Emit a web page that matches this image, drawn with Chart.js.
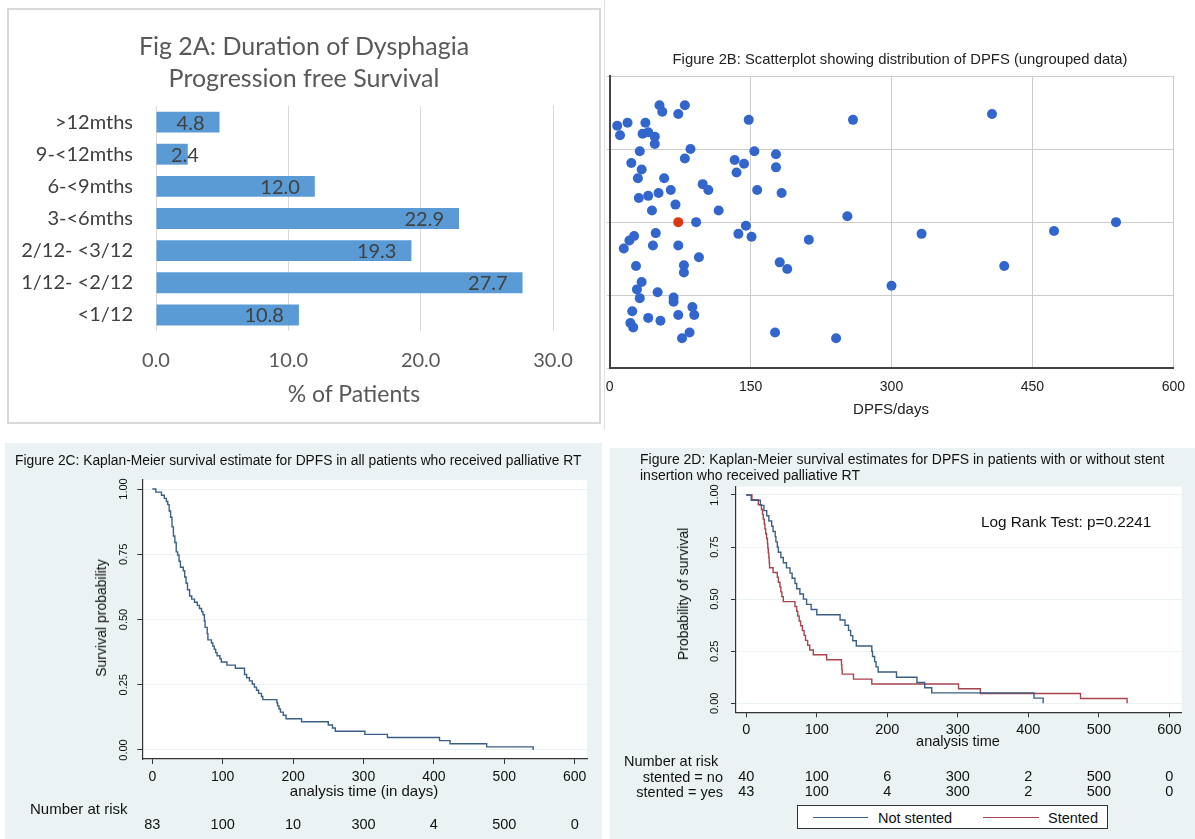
<!DOCTYPE html>
<html>
<head>
<meta charset="utf-8">
<script src="https://cdn.jsdelivr.net/npm/chart.js@4.4.1/dist/chart.umd.min.js"></script>
<style>
body { margin: 0; background: #fff; }
#page { position: relative; width: 1195px; height: 839px; overflow: hidden; font-family: "Liberation Sans", Arial, sans-serif; color: #111; }
canvas { position: absolute; left: 0; top: 0; }
.t { position: absolute; white-space: nowrap; line-height: 1; }
.c { transform: translate(-50%, -50%); }
.l { transform: translateY(-50%); }
.r { transform: translate(-100%, -50%); }
.rot { transform: translate(-50%, -50%) rotate(-90deg); }
</style>
</head>
<body>
<div id="page">
  <!-- panel backgrounds -->
  <div style="position:absolute;left:7px;top:8px;width:590px;height:412px;border:2px solid #d9d9d9"></div>
  <div style="position:absolute;left:604px;top:0;width:1px;height:430px;background:#e0e0e0"></div>
  <div style="position:absolute;left:5px;top:443px;width:597px;height:396px;background:#eaf2f3"></div>
  <div style="position:absolute;left:610px;top:448px;width:585px;height:391px;background:#eaf2f3"></div>

  <canvas id="chartA" width="1195" height="839"></canvas>
  <canvas id="chartB" width="1195" height="839"></canvas>
  <canvas id="chartC" width="1195" height="839"></canvas>
  <canvas id="chartD" width="1195" height="839"></canvas>

  <!-- Fig 2A texts -->
  <div class="t c" style="left:304px;top:45px;font:25px Lato;color:#595959">Fig 2A: Duration of Dysphagia</div>
  <div class="t c" style="left:304px;top:77px;font:25px Lato;color:#595959">Progression free Survival</div>
  <div class="t c" style="left:354px;top:393px;font:23px Lato;color:#595959">% of Patients</div>

  <!-- Fig 2B texts -->
  <div class="t c" style="left:900px;top:59px;font-size:14.8px;color:#222">Figure 2B: Scatterplot showing distribution of DPFS (ungrouped data)</div>
  <div class="t c" style="left:891px;top:408px;font-size:15px;color:#222">DPFS/days</div>

  <!-- Fig 2C texts -->
  <div class="t l" style="left:15px;top:461px;font-size:13.8px">Figure 2C: Kaplan-Meier survival estimate for DPFS in all patients who received palliative RT</div>
  <div class="t rot" style="left:101px;top:618px;font-size:14px">Survival probability</div>
  <div class="t c" style="left:364px;top:790px;font-size:15px">analysis time (in days)</div>
  <div class="t l" style="left:30px;top:808px;font-size:15px">Number at risk</div>

  <!-- Fig 2D texts -->
  <div class="t l" style="left:640px;top:459px;font-size:14px">Figure 2D: Kaplan-Meier survival estimates for DPFS in patients with or without stent</div>
  <div class="t l" style="left:640px;top:475px;font-size:14px">insertion who received palliative RT</div>
  <div class="t l" style="left:981px;top:522px;font-size:15.3px">Log Rank Test: p=0.2241</div>
  <div class="t rot" style="left:683px;top:594px;font-size:14px">Probability of survival</div>
  <div class="t c" style="left:958px;top:741px;font-size:14.5px">analysis time</div>
  <div class="t l" style="left:624px;top:761px;font-size:14.5px">Number at risk</div>
  <div class="t r" style="left:723px;top:777px;font-size:14.5px">stented = no</div>
  <div class="t r" style="left:723px;top:792px;font-size:14.5px">stented = yes</div>
  <div style="position:absolute;left:797px;top:805px;width:309px;height:22px;border:1.5px solid #333;background:#fff;font-size:14.5px">
    <div style="position:absolute;left:15px;top:11px;width:55px;border-top:1.5px solid #3b5f86"></div>
    <div class="t l" style="left:80px;top:12px">Not stented</div>
    <div style="position:absolute;left:185px;top:11px;width:56px;border-top:1.5px solid #a8434f"></div>
    <div class="t l" style="left:250px;top:12px">Stented</div>
  </div>
</div>

<script>
// ---- Fig 2A data ----
const catsA = ['>12mths', '9-<12mths', '6-<9mths', '3-<6mths', '2/12- <3/12', '1/12- <2/12', '<1/12'];
const pctA = [4.8, 2.4, 12.0, 22.9, 19.3, 27.7, 10.8];
const ticksA = [0, 10, 20, 30];

// ---- Fig 2B data (days, vertical jitter position) ----
const dpfsDays = [53, 56, 80, 73, 148, 259, 407, 8, 19, 11, 38, 35, 41, 48, 48, 32, 86, 80, 154, 177,
  177, 133, 143, 135, 23, 34, 30, 58, 65, 99, 105, 157, 183, 31, 41, 52, 70, 45, 116, 253,
  92, 145, 137, 151, 212, 26, 21, 15, 49, 46, 73, 95, 28, 79, 79, 181, 189, 300, 34, 29,
  32, 51, 68, 68, 88, 90, 73, 24, 22, 25, 41, 54, 85, 77, 176, 241, 332, 420, 473, 539];
const dpfsJitter = [3.60, 3.51, 3.60, 3.48, 3.40, 3.40, 3.48, 3.32, 3.36, 3.19, 3.36, 3.21, 3.23, 3.17, 3.07, 2.97, 3.00, 2.87, 2.97, 2.93,
  2.75, 2.85, 2.80, 2.68, 2.81, 2.72, 2.60, 2.60, 2.44, 2.52, 2.44, 2.44, 2.40, 2.33, 2.36, 2.40, 2.24, 2.16, 2.16, 2.08,
  2.00, 1.95, 1.84, 1.80, 1.76, 1.81, 1.75, 1.64, 1.85, 1.68, 1.68, 1.52, 1.40, 1.41, 1.31, 1.45, 1.36, 1.13, 1.18, 1.08,
  0.96, 1.04, 0.97, 0.91, 0.84, 0.73, 0.73, 0.78, 0.62, 0.56, 0.69, 0.65, 0.49, 0.41, 0.49, 0.41, 1.84, 1.40, 1.88, 2.00];
const medianDay = [73];
const medianJitter = [2.00];
const ticksB = [0, 150, 300, 450, 600];

// ---- Fig 2C data (Kaplan-Meier, all patients) ----
const timesC = [0, 5, 13, 17, 20, 22, 24, 26, 28, 30, 32, 34, 36, 38, 40, 44, 46, 48, 50, 53,
  56, 60, 64, 67, 70, 72, 74, 75, 78, 79, 84, 86, 88, 90, 92, 96, 98, 106, 118, 131,
  134, 138, 142, 145, 148, 151, 155, 157, 177, 178, 180, 182, 186, 190, 212, 250, 256, 260, 302, 334,
  408, 423, 475, 541];
const survC = [1, 0.988, 0.976, 0.964, 0.952, 0.94, 0.916, 0.892, 0.855, 0.82, 0.795, 0.759, 0.747, 0.723, 0.70, 0.687, 0.663, 0.639, 0.614, 0.59,
  0.578, 0.566, 0.554, 0.542, 0.530, 0.518, 0.494, 0.470, 0.446, 0.422, 0.410, 0.398, 0.386, 0.373, 0.361, 0.349, 0.337, 0.325, 0.313, 0.289,
  0.277, 0.265, 0.253, 0.241, 0.229, 0.217, 0.205, 0.193, 0.181, 0.169, 0.157, 0.145, 0.133, 0.120, 0.108, 0.096, 0.084, 0.072, 0.060, 0.048,
  0.036, 0.024, 0.012, 0];
const riskTimes = [0, 100, 200, 300, 400, 500, 600];
const riskC = ['83', '100', '10', '300', '4', '500', '0'];

// ---- Fig 2D data (Kaplan-Meier by stent) ----
const timesNo = [0, 7, 20, 25, 29, 32, 36, 38, 41, 42, 44, 45.5, 49, 52.5, 57, 62, 65, 69, 71.5, 76,
  81, 85.5, 92, 100, 133, 140, 145, 148, 151, 156, 178, 179, 182, 184, 187, 213, 242, 253, 263, 408, 421];
const survNo = [1, 0.975, 0.95, 0.925, 0.90, 0.875, 0.85, 0.825, 0.80, 0.775, 0.75, 0.725, 0.70, 0.675, 0.65, 0.625, 0.60, 0.575, 0.55, 0.525,
  0.50, 0.475, 0.45, 0.425, 0.40, 0.375, 0.35, 0.325, 0.30, 0.275, 0.25, 0.225, 0.20, 0.175, 0.15, 0.125, 0.10, 0.075, 0.05, 0.025, 0];
const timesYes = [0, 8, 17, 21.5, 23, 24, 25.5, 26.5, 27.5, 28.8, 30, 30.5, 31.2, 32, 32.5, 33, 38, 44, 45.5, 47.8,
  49, 50.5, 52.5, 69, 71.5, 73, 75, 77, 79.5, 82, 84, 87, 90, 95, 114, 135, 135.5, 136, 152, 178, 301, 332, 474, 540];
const survYes = [1, 0.977, 0.953, 0.930, 0.907, 0.884, 0.860, 0.837, 0.814, 0.791, 0.767, 0.744, 0.721, 0.698, 0.674, 0.651, 0.628, 0.605, 0.581, 0.558,
  0.535, 0.512, 0.488, 0.465, 0.442, 0.419, 0.395, 0.372, 0.349, 0.326, 0.302, 0.279, 0.256, 0.233, 0.209, 0.186, 0.163, 0.140, 0.116, 0.093,
  0.070, 0.047, 0.023, 0];
const riskNo = ['40', '100', '6', '300', '2', '500', '0'];
const riskYes = ['43', '100', '4', '300', '2', '500', '0'];
const ticksKM = [0, 100, 200, 300, 400, 500, 600];
const ticksSurv = [0, 0.25, 0.5, 0.75, 1];

const W = 1195, H = 839;
// padding so that the plot area lands at the given page box
function place(left, top, right, bottom, yw, xh) {
  return { left: left - yw, top: top, right: W - right, bottom: H - bottom - xh };
}
function setTicks(list) {
  return function (scale) { scale.ticks = list.map(v => ({ value: v })); };
}
const stata = '"Liberation Sans", Arial, sans-serif';

// white plot region for the Stata panels
const plotBg = {
  id: 'plotBg',
  beforeDraw(chart) {
    const a = chart.chartArea, ctx = chart.ctx;
    ctx.save();
    ctx.fillStyle = '#ffffff';
    ctx.fillRect(a.left, a.top, a.right - a.left, a.bottom - a.top);
    ctx.restore();
  }
};

// number-at-risk rows under the x axis
function riskPlugin(rows, size) {
  return {
    id: 'riskRows',
    afterDraw(chart) {
      const ctx = chart.ctx, xs = chart.scales.x;
      ctx.save();
      ctx.fillStyle = '#111';
      ctx.font = size + 'px ' + stata;
      ctx.textAlign = 'center';
      ctx.textBaseline = 'middle';
      rows.forEach(r => {
        r.labels.forEach((lab, i) => ctx.fillText(lab, xs.getPixelForValue(riskTimes[i]), r.y));
      });
      ctx.restore();
    }
  };
}

// ---- Chart A ----
const barLabels = {
  id: 'barLabels',
  afterDatasetsDraw(chart) {
    const ctx = chart.ctx, meta = chart.getDatasetMeta(0), base = chart.scales.x.getPixelForValue(0);
    ctx.save();
    ctx.font = '20px Lato';
    ctx.fillStyle = '#404040';
    ctx.textAlign = 'left';
    ctx.textBaseline = 'middle';
    meta.data.forEach((bar, i) => {
      const txt = pctA[i].toFixed(1);
      const w = ctx.measureText(txt).width;
      const x = Math.max(bar.x - 15 - w, base + 15);
      ctx.fillText(txt, x, bar.y + 1);
    });
    ctx.restore();
  }
};

new Chart(document.getElementById('chartA'), {
  type: 'bar',
  data: {
    labels: catsA,
    datasets: [{ data: pctA, backgroundColor: '#5b9bd5', borderWidth: 0, barPercentage: 0.65, categoryPercentage: 1 }]
  },
  options: {
    indexAxis: 'y',
    responsive: false,
    animation: false,
    layout: { padding: place(156, 106, 553, 331, 136, 40) },
    plugins: { legend: { display: false }, tooltip: { enabled: false } },
    scales: {
      x: {
        min: 0, max: 30,
        afterBuildTicks: setTicks(ticksA),
        afterFit: s => { s.height = 40; },
        grid: { color: '#d9d9d9', drawTicks: false },
        border: { display: false },
        ticks: { font: { family: 'Lato', size: 20 }, color: '#595959', padding: 18, callback: v => v.toFixed(1) }
      },
      y: {
        afterFit: s => { s.width = 136; },
        grid: { display: false, drawTicks: false },
        border: { display: false },
        ticks: { font: { family: 'Lato', size: 20 }, color: '#404040', padding: 23 }
      }
    }
  },
  plugins: [barLabels]
});

// ---- Chart B ----
new Chart(document.getElementById('chartB'), {
  type: 'scatter',
  data: {
    datasets: [
      { data: medianDay.map((d, i) => ({ x: d, y: medianJitter[i] })), backgroundColor: '#dc3912', pointRadius: 5, borderWidth: 0 },
      { data: dpfsDays.map((d, i) => ({ x: d, y: dpfsJitter[i] })), backgroundColor: '#3366cc', pointRadius: 5, borderWidth: 0 }
    ]
  },
  options: {
    responsive: false,
    animation: false,
    layout: { padding: place(609.7, 76, 1175, 368.3, 10, 40) },
    plugins: { legend: { display: false }, tooltip: { enabled: false } },
    scales: {
      x: {
        type: 'linear', min: 0, max: 600,
        afterBuildTicks: setTicks(ticksB),
        afterFit: s => { s.height = 40; },
        grid: { color: '#cccccc', drawTicks: false },
        border: { color: '#444', width: 2 },
        ticks: { font: { family: stata, size: 14 }, color: '#222', padding: 10 }
      },
      y: {
        min: 0, max: 4,
        afterBuildTicks: setTicks([0, 1, 2, 3, 4]),
        afterFit: s => { s.width = 10; },
        grid: { color: '#cccccc', tickLength: 3 },
        border: { color: '#444', width: 2 },
        ticks: { display: false }
      }
    }
  }
});

// shared axis setup for the Kaplan-Meier panels
function kmScales(xmin, xmax, ymin, ymax, yPad, xPad, xSize) {
  return {
    x: {
      type: 'linear', min: xmin, max: xmax,
      afterBuildTicks: setTicks(ticksKM),
      afterFit: s => { s.height = 30; },
      grid: { drawOnChartArea: false, tickColor: '#333', tickLength: 5 },
      border: { color: '#333', width: 1.2 },
      ticks: { font: { family: stata, size: xSize }, color: '#111', padding: xPad }
    },
    y: {
      min: ymin, max: ymax,
      afterBuildTicks: setTicks(ticksSurv),
      afterFit: s => { s.width = 42; },
      grid: { color: '#eaf2f3', tickColor: '#333', tickLength: 5 },
      border: { color: '#333', width: 1.2 },
      ticks: { font: { family: stata, size: 11 }, color: '#111', minRotation: 90, maxRotation: 90, crossAlign: 'center', padding: yPad, callback: v => v.toFixed(2) }
    }
  };
}

// ---- Chart C ----
new Chart(document.getElementById('chartC'), {
  type: 'line',
  data: {
    datasets: [{
      data: timesC.map((t, i) => ({ x: t, y: survC[i] })),
      borderColor: '#3b5f86', borderWidth: 1.4, pointRadius: 0, stepped: 'before', fill: false
    }]
  },
  options: {
    responsive: false,
    animation: false,
    layout: { padding: place(142.3, 480, 587, 759, 42, 30) },
    plugins: { legend: { display: false }, tooltip: { enabled: false } },
    scales: kmScales(-14.2, 617.5, -0.0345, 1.0345, 2.3, 5, 14)
  },
  plugins: [plotBg, riskPlugin([{ y: 825, labels: riskC }], 14.5)]
});

// ---- Chart D ----
new Chart(document.getElementById('chartD'), {
  type: 'line',
  data: {
    datasets: [
      { label: 'Not stented', data: timesNo.map((t, i) => ({ x: t, y: survNo[i] })), borderColor: '#3b5f86', borderWidth: 1.4, pointRadius: 0, stepped: 'before', fill: false },
      { label: 'Stented', data: timesYes.map((t, i) => ({ x: t, y: survYes[i] })), borderColor: '#a8434f', borderWidth: 1.4, pointRadius: 0, stepped: 'before', fill: false }
    ]
  },
  options: {
    responsive: false,
    animation: false,
    layout: { padding: place(736, 486.7, 1181.7, 712.3, 42, 30) },
    plugins: { legend: { display: false }, tooltip: { enabled: false } },
    scales: kmScales(-14.6, 617.5, -0.0432, 1.0398, 5.3, 4, 14.5)
  },
  plugins: [plotBg, riskPlugin([{ y: 777.3, labels: riskNo }, { y: 791.7, labels: riskYes }], 14.5)]
});
</script>
</body>
</html>
